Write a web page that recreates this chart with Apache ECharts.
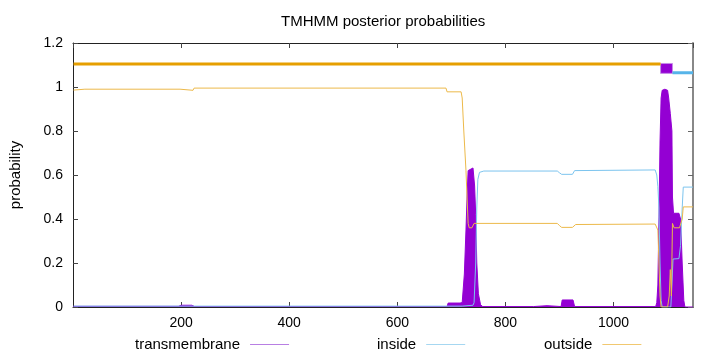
<!DOCTYPE html>
<html>
<head>
<meta charset="utf-8">
<script src="https://cdn.jsdelivr.net/npm/echarts@6/dist/echarts.min.js"></script>
<style>html,body{margin:0;padding:0;background:#fff}#c{width:720px;height:352px}</style>
</head>
<body>
<div id="c"></div>
<script>
// ---- data ----
const seqLength = 1147;
const xTicks = [200, 400, 600, 800, 1000];
const yTicks = [0, 0.2, 0.4, 0.6, 0.8, 1, 1.2];

const tmPos = [1, 195, 200, 220, 225, 692, 694, 716, 720, 724, 727, 729, 731, 740, 743, 745, 747, 750, 754, 758,
  852, 855, 877, 880, 903, 905, 925, 928, 1078, 1080, 1082, 1084, 1086, 1088, 1090, 1095, 1100, 1102, 1105, 1108,
  1109, 1111, 1121, 1124, 1127, 1130, 1132, 1147];
const tmProb = [0.003, 0.003, 0.008, 0.008, 0.002, 0.002, 0.018, 0.018, 0.02, 0.15, 0.35, 0.5, 0.62, 0.632, 0.55, 0.42, 0.2, 0.06, 0.01, 0.002,
  0.002, 0.006, 0.006, 0.002, 0.002, 0.032, 0.032, 0.002, 0.002, 0.02, 0.1, 0.4, 0.75, 0.95, 0.985, 0.99, 0.985, 0.95, 0.88, 0.8,
  0.5, 0.426, 0.426, 0.40, 0.2, 0.03, 0.0, 0.0];

const insidePos = [1, 720, 740, 742, 745, 747, 749, 752, 760, 896, 900, 904, 924, 928, 1077, 1080, 1082, 1084, 1086, 1088, 1090,
  1106, 1108, 1110, 1121, 1124, 1127, 1129, 1147];
const insideProb = [0.004, 0.004, 0.008, 0.02, 0.2, 0.45, 0.58, 0.612, 0.618, 0.618, 0.61, 0.603, 0.603, 0.62, 0.623, 0.6, 0.547, 0.45, 0.2, 0.03, 0.0,
  0.0, 0.1, 0.218, 0.22, 0.28, 0.45, 0.545, 0.545];

const outsidePos = [1, 22, 198, 200, 222, 224, 690, 692, 718, 720, 723, 727, 729, 731, 733, 738, 742, 896, 900, 904, 924, 930,
  1077, 1080, 1082, 1084, 1086, 1088, 1100, 1103, 1105, 1107, 1109, 1112, 1122, 1127, 1129, 1147];
const outsideProb = [0.986, 0.99, 0.99, 0.985, 0.985, 0.995, 0.995, 0.978, 0.978, 0.95, 0.8, 0.62, 0.5, 0.38, 0.36, 0.36, 0.38, 0.38, 0.37, 0.362, 0.362, 0.375,
  0.377, 0.37, 0.35, 0.2, 0.05, 0.0, 0.0, 0.05, 0.17, 0.05, 0.38, 0.36, 0.36, 0.4, 0.455, 0.455];

// predicted topology (top band)
const topoLabels = ['outside', 'transmembrane', 'inside'];
const topoStart = [1, 1087, 1109];
const topoEnd = [1087, 1109, 1147];

// ---- chart ----
const FONT = 'Liberation Sans, Arial, sans-serif';
const zip = (xs, ys) => xs.map((x, i) => [x, ys[i]]);
const topo = {};
topoLabels.forEach((t, i) => topo[t] = [topoStart[i], topoEnd[i]]);

const chart = echarts.init(document.getElementById('c'), null, {renderer: 'canvas'});
const axisLabelStyle = {color: '#000', fontFamily: FONT, fontSize: 14};
const legendText = {fontFamily: FONT, fontSize: 15, color: '#000', padding: [0, 5, 0, 0]};
const option = {
  animation: false,
  backgroundColor: '#fff',
  title: {
    text: 'TMHMM posterior probabilities',
    left: 276, top: 9,
    textStyle: {fontFamily: FONT, fontSize: 15, fontWeight: 'normal', color: '#000'}
  },
  grid: {left: 73, right: 27, top: 43, bottom: 45},
  legend: [
    {data: [{name: 'transmembrane', itemStyle: {color: '#b87fe3'}}], left: 130, top: 332, align: 'right',
      icon: 'rect', itemWidth: 39, itemHeight: 1, textStyle: legendText},
    {data: [{name: 'inside', itemStyle: {color: '#a6d7f1'}}], left: 372, top: 332, align: 'right',
      icon: 'rect', itemWidth: 39, itemHeight: 1, textStyle: legendText},
    {data: [{name: 'outside', itemStyle: {color: '#f1c870'}}], left: 539, top: 332, align: 'right',
      icon: 'rect', itemWidth: 39, itemHeight: 1, textStyle: legendText}
  ],
  xAxis: [
    {type: 'value', min: 0, max: seqLength, interval: 200, position: 'bottom',
      axisLine: {show: true, onZero: false, lineStyle: {color: '#222', width: 1}},
      axisTick: {show: true, inside: true, length: 5, lineStyle: {color: '#444'}},
      axisLabel: {...axisLabelStyle, margin: 9, showMinLabel: false, showMaxLabel: false,
        formatter: v => xTicks.includes(v) ? String(v) : ''},
      splitLine: {show: false}},
    {type: 'value', min: 0, max: seqLength, interval: 200, position: 'top',
      axisLine: {show: true, onZero: false, lineStyle: {color: '#222', width: 1}},
      axisTick: {show: true, inside: true, length: 5, lineStyle: {color: '#444'}},
      axisLabel: {show: false}, splitLine: {show: false}}
  ],
  yAxis: [
    {type: 'value', min: 0, max: 1.2, interval: 0.2, position: 'left',
      name: 'probability', nameLocation: 'middle', nameGap: 50,
      nameTextStyle: {fontFamily: FONT, fontSize: 15, color: '#000'},
      axisLine: {show: true, onZero: false, lineStyle: {color: '#222', width: 1}},
      axisTick: {show: true, inside: true, length: 5, lineStyle: {color: '#444'}},
      axisLabel: {...axisLabelStyle, margin: 10,
        formatter: v => yTicks.some(t => Math.abs(t - v) < 1e-9) ? String(+v.toFixed(1)) : ''},
      splitLine: {show: false}},
    {type: 'value', min: 0, max: 1.2, interval: 0.2, position: 'right',
      axisLine: {show: true, onZero: false, lineStyle: {color: '#888', width: 2}},
      axisTick: {show: true, inside: true, length: 5, lineStyle: {color: '#666'}},
      axisLabel: {show: false}, splitLine: {show: false}}
  ],
  series: [
    {name: 'transmembrane', type: 'line', data: zip(tmPos, tmProb), symbol: 'none',
      lineStyle: {color: '#9400D3', width: 1}, itemStyle: {color: '#9400D3'},
      areaStyle: {color: '#9400D3', opacity: 1}, z: 2,
      markArea: {silent: true, itemStyle: {color: '#9400D3', borderColor: '#c58be8', borderWidth: 1},
        data: [[{coord: [topo.transmembrane[0], 1.062]}, {coord: [topo.transmembrane[1], 1.107]}]]}},
    {name: 'inside', type: 'line', data: zip(insidePos, insideProb), symbol: 'none',
      lineStyle: {color: '#7cc4ee', width: 1}, itemStyle: {color: '#7cc4ee'}, z: 3},
    {name: 'outside', type: 'line', data: zip(outsidePos, outsideProb), symbol: 'none',
      lineStyle: {color: '#ecb94a', width: 1}, itemStyle: {color: '#ecb94a'}, z: 3},
    {name: 'topo-outside', type: 'line', data: [[topo.outside[0], 1.105], [topo.outside[1], 1.105]], symbol: 'none',
      lineStyle: {color: '#E69F00', width: 3}, z: 4, silent: true},
    {name: 'topo-inside', type: 'line', data: [[topo.inside[0], 1.065], [topo.inside[1], 1.065]], symbol: 'none',
      lineStyle: {color: '#56B4E9', width: 3}, z: 4, silent: true}
  ]
};
chart.setOption(option);
</script>
</body>
</html>
